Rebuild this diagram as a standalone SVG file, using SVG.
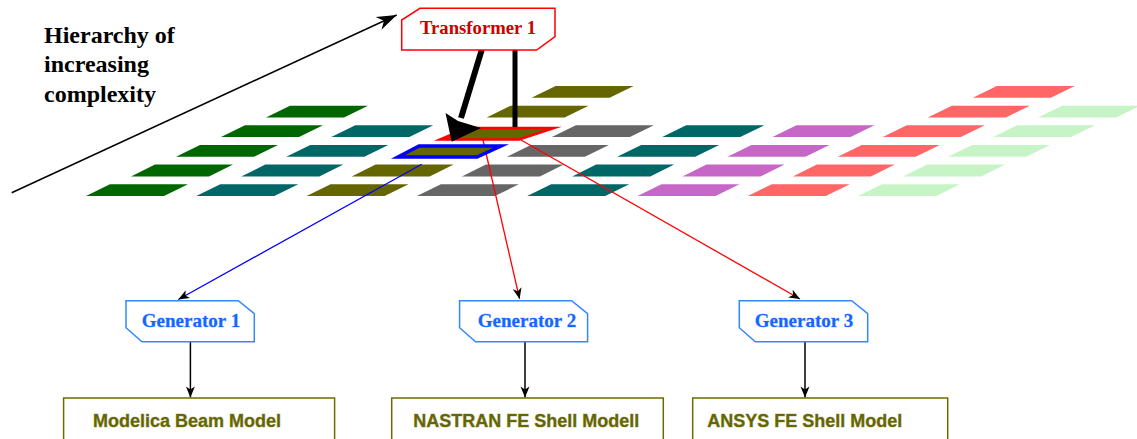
<svg xmlns="http://www.w3.org/2000/svg" xmlns:xlink="http://www.w3.org/1999/xlink" width="1137" height="439" viewBox="0 0 1137 439">
<style>
.dg{fill:#006600}.tl{fill:#006666}.ol{fill:#666600}.gy{fill:#666666}.pu{fill:#c666c6}.sa{fill:#ff6666}.lg{fill:#c6f4c6}
.gen{fill:#fff;stroke:#3388ff;stroke-width:1.5}
.gent{font-family:"Liberation Serif","Times New Roman",serif;font-weight:bold;font-size:19px;fill:#1466ff;stroke:#1466ff;stroke-opacity:0.35;stroke-width:0.8;text-anchor:middle}
.mod{fill:#fff;stroke:#6b6b00;stroke-width:1.5}
.modt{font-family:"Liberation Sans",Arial,sans-serif;font-weight:bold;font-size:18px;fill:#666600;stroke:#666600;stroke-opacity:0.35;stroke-width:1}
.lbl{font-family:"Liberation Serif","Times New Roman",serif;font-weight:bold;font-size:24px;fill:#000}
.thin{fill:none;stroke:#000;stroke-width:1.5;marker-end:url(#arr)}
</style>
<defs>
<polygon id="cell" points="0,0 78,0 54,11.8 -24,11.8"/>
<marker id="arr" markerUnits="userSpaceOnUse" viewBox="-12 -6 13 12" refX="0" refY="0" markerWidth="13" markerHeight="12" orient="auto">
<path d="M0,0 L-11,-4.5 L-8,0 L-11,4.5 Z" fill="#000"/>
</marker>
<marker id="bigarr" markerUnits="userSpaceOnUse" viewBox="-22 -9 23 18" refX="0" refY="0" markerWidth="23" markerHeight="18" orient="auto">
<path d="M0,0 L-20,-7 L-14,0 L-20,7 Z" fill="#000"/>
</marker>
</defs>
<rect width="1137" height="439" fill="#fff"/>

<g id="hierarchy-label">
<text class="lbl" x="44" y="42.7">Hierarchy of</text>
<text class="lbl" x="44" y="72.2">increasing</text>
<text class="lbl" x="44" y="101.7">complexity</text>
<line x1="11.7" y1="192.7" x2="396.7" y2="15" stroke="#000" stroke-width="1.5" marker-end="url(#bigarr)"/>
</g>

<g id="grid">
<use href="#cell" x="555.6" y="86" class="ol"/>
<use href="#cell" x="996.8" y="86" class="sa"/>

<use href="#cell" x="290" y="105.65" class="dg"/>
<use href="#cell" x="510.6" y="105.65" class="ol"/>
<use href="#cell" x="951.8" y="105.65" class="sa"/>
<use href="#cell" x="1062.1" y="105.65" class="lg"/>

<use href="#cell" x="245" y="125.3" class="dg"/>
<use href="#cell" x="355.3" y="125.3" class="tl"/>
<use href="#cell" x="575.9" y="125.3" class="gy"/>
<use href="#cell" x="686.2" y="125.3" class="tl"/>
<use href="#cell" x="796.5" y="125.3" class="pu"/>
<use href="#cell" x="906.8" y="125.3" class="sa"/>
<use href="#cell" x="1017.1" y="125.3" class="lg"/>

<use href="#cell" x="200" y="144.95" class="dg"/>
<use href="#cell" x="310.3" y="144.95" class="tl"/>
<use href="#cell" x="530.9" y="144.95" class="gy"/>
<use href="#cell" x="641.2" y="144.95" class="tl"/>
<use href="#cell" x="751.5" y="144.95" class="pu"/>
<use href="#cell" x="861.8" y="144.95" class="sa"/>
<use href="#cell" x="972.1" y="144.95" class="lg"/>

<use href="#cell" x="155" y="164.6" class="dg"/>
<use href="#cell" x="265.3" y="164.6" class="tl"/>
<use href="#cell" x="375.6" y="164.6" class="ol"/>
<use href="#cell" x="485.9" y="164.6" class="gy"/>
<use href="#cell" x="596.2" y="164.6" class="tl"/>
<use href="#cell" x="706.5" y="164.6" class="pu"/>
<use href="#cell" x="816.8" y="164.6" class="sa"/>
<use href="#cell" x="927.1" y="164.6" class="lg"/>

<use href="#cell" x="110" y="184.25" class="dg"/>
<use href="#cell" x="220.3" y="184.25" class="tl"/>
<use href="#cell" x="330.6" y="184.25" class="ol"/>
<use href="#cell" x="440.9" y="184.25" class="gy"/>
<use href="#cell" x="551.2" y="184.25" class="tl"/>
<use href="#cell" x="661.5" y="184.25" class="pu"/>
<use href="#cell" x="771.8" y="184.25" class="sa"/>
<use href="#cell" x="882.1" y="184.25" class="lg"/>
</g>

<g id="connectors">
<line x1="421.7" y1="164.3" x2="178.3" y2="299.5" stroke="#0000ff" stroke-width="1.3" marker-end="url(#arr)"/>
<line x1="483" y1="140" x2="519.6" y2="299" stroke="#ff0000" stroke-width="1.3" marker-end="url(#arr)"/>
<line x1="521" y1="140" x2="800" y2="299" stroke="#ff0000" stroke-width="1.3" marker-end="url(#arr)"/>
<line class="thin" x1="190.4" y1="341.7" x2="190.4" y2="397.5"/>
<line class="thin" x1="525" y1="341.7" x2="525" y2="397.5"/>
<line class="thin" x1="805" y1="341.7" x2="805" y2="397.5"/>
</g>

<g id="selected-cells">
<polygon points="467,128 554,128 519,139.5 440,139.5" fill="#666600" stroke="#ff0000" stroke-width="2.5" stroke-miterlimit="10"/>
<polygon points="419,146 501,146 477,157 398,157" fill="#666600" stroke="#0000ff" stroke-width="3.5" stroke-miterlimit="10"/>
</g>

<g id="transformer-links">
<line x1="481.7" y1="50" x2="461" y2="118" stroke="#000" stroke-width="6"/>
<polygon points="451.7,141.7 445.5,113 458,121 481,128" fill="#000"/>
<line x1="515" y1="50" x2="515" y2="127" stroke="#000" stroke-width="5"/>
</g>

<g id="transformer1">
<polygon points="420,8.3 555,8.3 555,36.7 536.7,50 401.7,50 401.7,20" fill="#fff" stroke="#ff0000" stroke-width="1.5"/>
<text x="478" y="34" font-family="'Liberation Serif','Times New Roman',serif" font-weight="bold" font-size="18.7" fill="#cc0000" text-anchor="middle">Transformer 1</text>
</g>

<g id="generator1">
<polygon class="gen" points="126,300.7 238.3,300.7 254.3,313.7 254.3,341.7 142,341.7 126,327.7"/>
<text class="gent" x="191" y="326.7">Generator 1</text>
</g>
<g id="generator2">
<polygon class="gen" points="459.6,300.7 571.6,300.7 587.6,313.7 587.6,341.7 475.6,341.7 459.6,327.7"/>
<text class="gent" x="527" y="326.7">Generator 2</text>
</g>
<g id="generator3">
<polygon class="gen" points="739.3,300.7 851.7,300.7 867.7,313.7 867.7,341.7 755.3,341.7 739.3,327.7"/>
<text class="gent" x="804" y="326.7">Generator 3</text>
</g>

<g id="model1">
<rect class="mod" x="63.6" y="398" width="271" height="60"/>
<text class="modt" x="92.9" y="427">Modelica Beam Model</text>
</g>
<g id="model2">
<rect class="mod" x="391.7" y="398" width="271.6" height="60"/>
<text class="modt" x="413.3" y="427">NASTRAN FE Shell Modell</text>
</g>
<g id="model3">
<rect class="mod" x="692.7" y="398" width="255" height="60"/>
<text class="modt" x="707.3" y="427">ANSYS FE Shell Model</text>
</g>
</svg>
